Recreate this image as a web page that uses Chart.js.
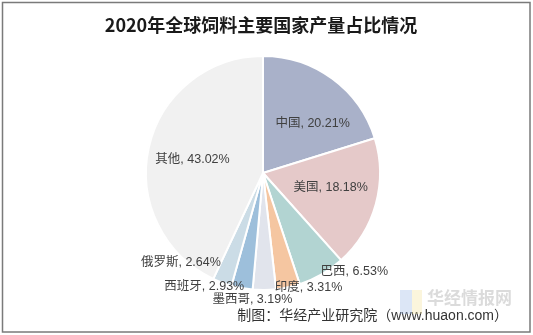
<!DOCTYPE html>
<html>
<head>
<meta charset="utf-8">
<script src="https://cdn.jsdelivr.net/npm/chart.js@4"></script>
<style>
  body { margin: 0; background: #fff; }
  #box { position: relative; width: 533px; height: 335px; }
</style>
</head>
<body>
<div id="box"><canvas id="grafico" width="533" height="335"></canvas></div>
<script>
const paises = ['中国', '美国', '巴西', '印度', '墨西哥', '西班牙', '俄罗斯', '其他'];
const porcentajes = [20.21, 18.18, 6.53, 3.31, 3.19, 2.93, 2.64, 43.02];
const colores = ['#a9b1c9', '#e5c9c9', '#b2d4d2', '#f5c6a1', '#e1e4ec', '#9dbfdb', '#cbdce6', '#f1f1f1'];

const titulo = '2020年全球饲料主要国家产量占比情况';
const fuente = '制图：华经产业研究院（www.huaon.com）';

// where each label goes: inside the slice or just outside it
const dentro = [true, true, false, false, false, false, false, true];
const alinear = ['center', 'center', 'left', 'left', 'center', 'right', 'right', 'center'];
const ajuste = [[8, 7], [0, -4], [-3, -6], [-14, -4], [-12, 6], [3, -5], [0, -24], [-2, 2]];

const fondo = {
  id: 'fondo',
  beforeDraw(chart) {
    const ctx = chart.ctx;
    ctx.save();
    ctx.fillStyle = '#fff';
    ctx.fillRect(0, 0, chart.width, chart.height);
    ctx.strokeStyle = '#7a7a7a';
    ctx.lineWidth = 1.5;
    ctx.strokeRect(2.5, 2.5, 527.5, 329.5);
    ctx.fillStyle = '#1a1a1a';
    ctx.font = 'bold 18px "Noto Sans CJK SC"';
    ctx.textAlign = 'center';
    ctx.textBaseline = 'middle';
    ctx.fillText(titulo, 261, 25);
    ctx.restore();
  }
};

const etiquetas = {
  id: 'etiquetas',
  afterDraw(chart) {
    const ctx = chart.ctx;
    const arcos = chart.getDatasetMeta(0).data;
    ctx.save();
    ctx.font = '12.5px "Liberation Sans", "Noto Sans CJK SC"';
    ctx.fillStyle = '#404040';
    ctx.textBaseline = 'middle';
    arcos.forEach((arco, i) => {
      const p = arco.getProps(['x', 'y', 'startAngle', 'endAngle', 'outerRadius']);
      const medio = (p.startAngle + p.endAngle) / 2;
      const texto = `${paises[i]}, ${porcentajes[i].toFixed(2)}%`;
      const r = dentro[i] ? p.outerRadius * 0.6 : p.outerRadius + 4;
      ctx.textAlign = alinear[i];
      const x = p.x + Math.cos(medio) * r + ajuste[i][0];
      const y = p.y + Math.sin(medio) * r + ajuste[i][1];
      ctx.fillText(texto, x, y);
    });

    // fuente y marca de agua
    ctx.textAlign = 'right';
    ctx.font = '14px "Liberation Sans", "Noto Sans CJK SC"';
    ctx.fillStyle = '#333';
    ctx.fillText(fuente, 508, 316);
    ctx.globalAlpha = 0.35;
    ctx.fillStyle = '#9ab8e6';
    ctx.fillRect(400, 290, 12, 24);
    ctx.fillStyle = '#f3e39a';
    ctx.fillRect(412, 290, 10, 24);
    ctx.fillStyle = '#999';
    ctx.font = 'bold 17px "Noto Sans CJK SC"';
    ctx.fillText('华经情报网', 512, 298);
    ctx.restore();
  }
};

new Chart(document.getElementById('grafico'), {
  type: 'pie',
  data: {
    labels: paises,
    datasets: [{
      data: porcentajes,
      backgroundColor: colores,
      borderColor: '#ffffff',
      borderWidth: 2
    }]
  },
  options: {
    responsive: false,
    animation: false,
    layout: { padding: { top: 55, bottom: 44, left: 100, right: 107 } },
    plugins: {
      legend: { display: false },
      title: { display: false },
      tooltip: { enabled: false }
    }
  },
  plugins: [fondo, etiquetas]
});
</script>
</body>
</html>
